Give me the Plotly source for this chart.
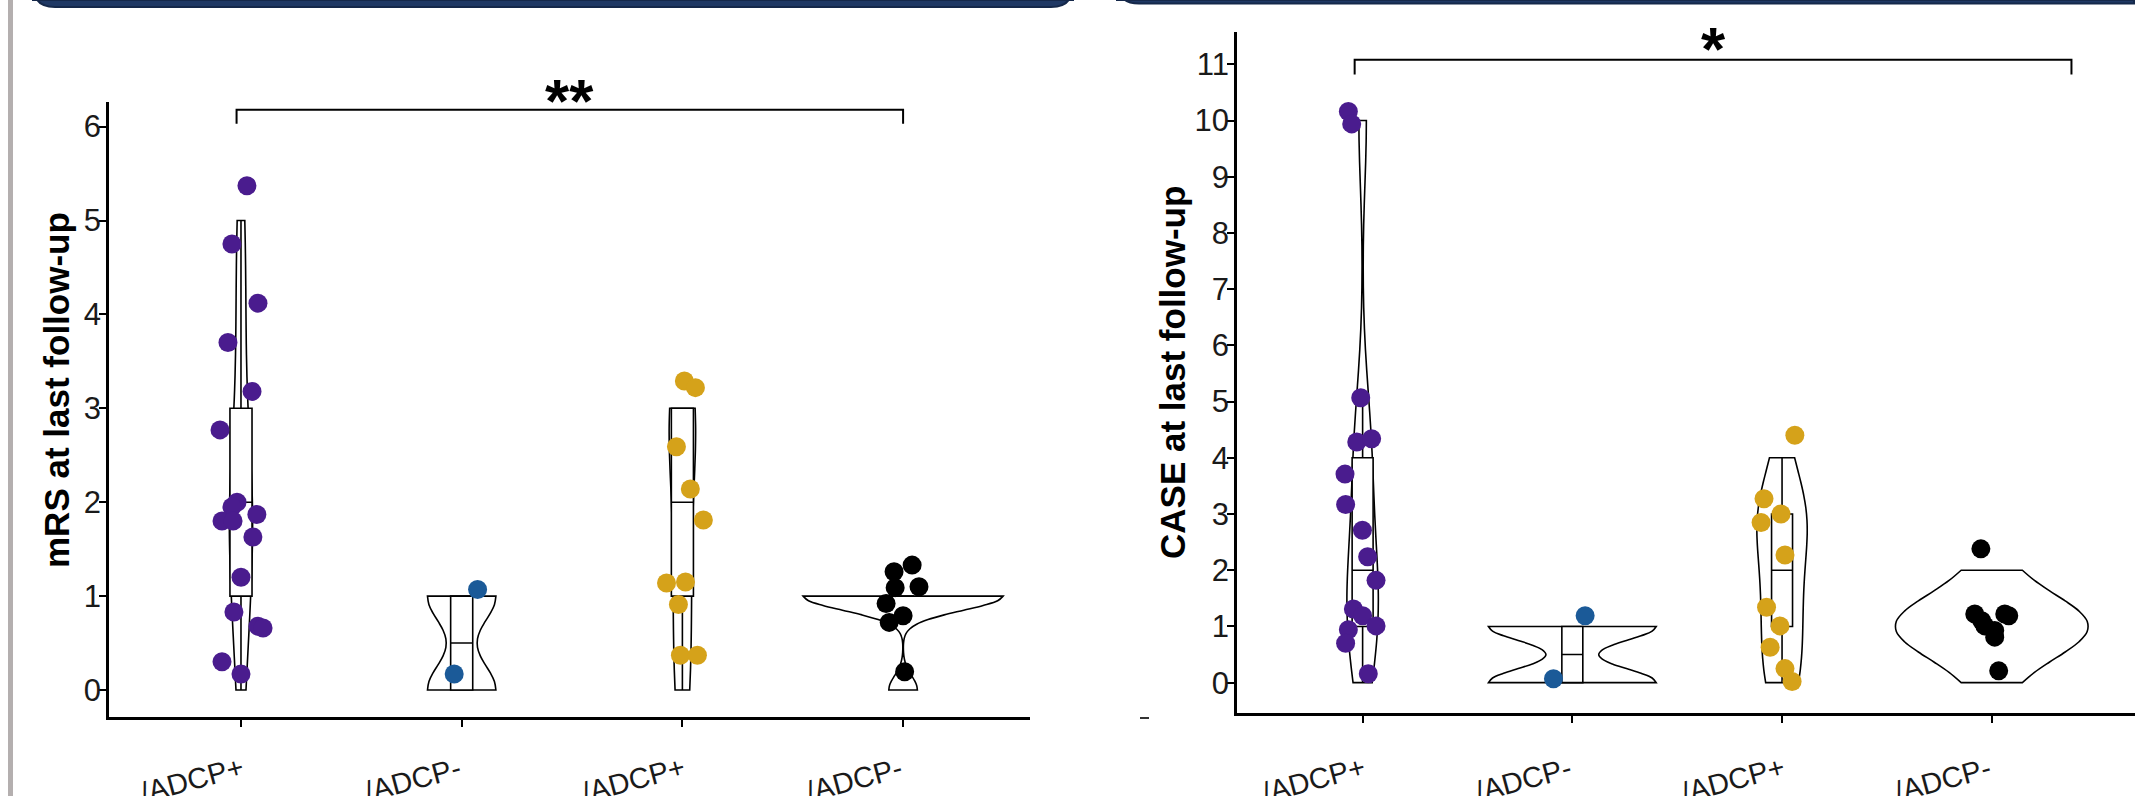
import numpy as np
import plotly.graph_objects as go

W, H = 2135, 796

# ---------------- data ----------------
categories = ["/ADCP+", "/ADCP-", "/ADCP+", "/ADCP-"]
group_colors = ["#4A1C8E", "#1B5A98", "#D5A21A", "#000000"]

# mRS at last follow-up (integer scores, used for violins / boxes)
mrs_purple = [5, 5, 4, 4, 3, 3, 2, 2, 2, 2, 2, 2, 1, 1, 1, 1, 0, 0]
mrs_blue = [1, 0]
mrs_gold = [3, 3, 3, 3, 2, 2, 1, 1, 0, 0]
mrs_black = [1, 1, 1, 1, 1, 1, 1, 0]

# jittered dot positions as drawn (value axis) and horizontal jitter (category units)
mrs_purple_dots = [5.37, 4.75, 4.12, 3.70, 3.18, 2.77, 2.00, 1.95, 1.80, 1.80, 1.87, 1.63, 1.20, 0.83, 0.68, 0.66, 0.30, 0.17]
mrs_purple_dx = [0.027, -0.041, 0.077, -0.059, 0.050, -0.095, -0.018, -0.041, -0.086, -0.036, 0.072, 0.054, 0.0, -0.032, 0.077, 0.100, -0.086, 0.0]
mrs_blue_dots = [1.07, 0.17]
mrs_blue_dx = [0.072, -0.034]
mrs_gold_dots = [3.29, 3.22, 2.59, 2.14, 1.81, 1.14, 1.15, 0.91, 0.37, 0.37]
mrs_gold_dx = [0.009, 0.059, -0.027, 0.036, 0.095, -0.072, 0.014, -0.018, -0.009, 0.068]
mrs_black_dots = [1.33, 1.26, 1.10, 1.09, 0.92, 0.79, 0.72, 0.195]
mrs_black_dx = [0.041, -0.041, 0.072, -0.036, -0.077, 0.0, -0.063, 0.007]

# CASE at last follow-up
case_purple = [10, 10, 5, 4, 4, 4, 3, 2, 2, 2, 1, 1, 1, 1, 1, 0]
case_blue = [1, 0]
case_gold = [4, 3, 3, 3, 2, 2, 1, 1, 0, 0]
case_black = [2, 1, 1, 1, 1, 1, 1, 1, 0]

case_purple_dots = [10.16, 9.94, 5.07, 4.28, 4.34, 3.71, 3.17, 2.71, 2.24, 1.82, 1.31, 1.19, 0.94, 1.01, 0.70, 0.16]
case_purple_dx = [-0.068, -0.052, -0.009, -0.028, 0.043, -0.084, -0.081, -0.001, 0.024, 0.064, -0.044, 0.0, -0.068, 0.064, -0.081, 0.027]
case_blue_dots = [1.19, 0.07]
case_blue_dx = [0.061, -0.090]
case_gold_dots = [4.40, 3.27, 3.00, 2.85, 2.27, 1.34, 1.01, 0.63, 0.25, 0.02]
case_gold_dx = [0.061, -0.086, -0.005, -0.100, 0.014, -0.074, -0.010, -0.057, 0.014, 0.048]
case_black_dots = [2.38, 1.22, 1.22, 1.10, 1.19, 1.01, 0.93, 0.81, 0.21]
case_black_dx = [-0.052, -0.081, 0.062, -0.048, 0.081, -0.033, 0.014, 0.014, 0.033]

mrs_ticks = [0, 1, 2, 3, 4, 5, 6]
case_ticks = [0, 1, 2, 3, 4, 5, 6, 7, 8, 9, 10, 11]

# ---------------- styling parameters ----------------
left_violin_widths = [0.105, 0.31, 0.12, 0.906]
left_bandwidths = [0.73, 0.29, 0.68, 0.15]
right_violin_widths = [0.15, 0.80, 0.24, 0.91]
right_bandwidths = [1.15, 0.26, 0.70, 0.55]
BOX_W = 0.1
FONT = "Liberation Sans, Arial, sans-serif"
LABEL_SHIFT_LEFT = -0.222     # centre of rotated category label relative to its tick
LABEL_SHIFT_RIGHT = -0.234
LABEL_BAR_H = 0.48            # label strip: label centre sits near the page bottom (cut there, as in the source crop)

LEFT_XRANGE = [-0.598, 3.575]
RIGHT_XRANGE = [-0.599, 3.683]


def px_x(p):
    return p / W


def px_y(p):
    return 1 - p / H


LEFT_XDOM = [px_x(109), px_x(1030)]
RIGHT_XDOM = [px_x(1237), 1.0]

fig = go.Figure()

left_scores = [mrs_purple, mrs_blue, mrs_gold, mrs_black]
left_dots = [mrs_purple_dots, mrs_blue_dots, mrs_gold_dots, mrs_black_dots]
left_dx = [mrs_purple_dx, mrs_blue_dx, mrs_gold_dx, mrs_black_dx]
right_scores = [case_purple, case_blue, case_gold, case_black]
right_dots = [case_purple_dots, case_blue_dots, case_gold_dots, case_black_dots]
right_dx = [case_purple_dx, case_blue_dx, case_gold_dx, case_black_dx]


def add_panel(scores, dots, dxs, widths, bws, xa, ya, tag):
    for i, vals in enumerate(scores):
        fig.add_trace(go.Violin(
            y=vals, x0=i, width=widths[i], bandwidth=bws[i],
            spanmode="hard", scalemode="width", scalegroup=f"{tag}{i}",
            points=False, side="both",
            line=dict(color="black", width=1.6), fillcolor="white",
            box=dict(visible=True, width=min(1.0, BOX_W / widths[i]), fillcolor="white",
                     line=dict(color="black", width=1.6)),
            meanline=dict(visible=False),
            showlegend=False, hoverinfo="skip", xaxis=xa, yaxis=ya))
    for i, (yv, dx) in enumerate(zip(dots, dxs)):
        fig.add_trace(go.Scatter(
            x=[i + d for d in dx], y=yv, mode="markers",
            marker=dict(color=group_colors[i], size=19, line=dict(width=0)),
            showlegend=False, hoverinfo="skip", xaxis=xa, yaxis=ya, cliponaxis=False))


def add_labels(shift, xa, ya):
    # rotated category labels, clipped at the bottom edge of the page like the source crop
    fig.add_trace(go.Bar(
        x=[i + shift for i in range(len(categories))], y=[LABEL_BAR_H] * len(categories), base=0,
        width=0.01, text=categories, textposition="inside", insidetextanchor="middle",
        textangle=-15, constraintext="none", cliponaxis=True,
        insidetextfont=dict(family=FONT, size=29, color="#1a1a1a"),
        marker=dict(color="rgba(0,0,0,0)", line=dict(width=0)),
        showlegend=False, hoverinfo="skip", xaxis=xa, yaxis=ya))


add_panel(left_scores, left_dots, left_dx, left_violin_widths, left_bandwidths, "x", "y", "L")
add_panel(right_scores, right_dots, right_dx, right_violin_widths, right_bandwidths, "x2", "y2", "R")
add_labels(LABEL_SHIFT_LEFT, "x3", "y3")
add_labels(LABEL_SHIFT_RIGHT, "x4", "y4")

axis_common = dict(showgrid=False, zeroline=False, showline=True, linecolor="black", linewidth=2.5,
                   ticks="outside", ticklen=7, tickwidth=2, tickcolor="black",
                   tickfont=dict(family=FONT, size=31, color="#1a1a1a"))
hidden = dict(visible=False, showgrid=False, zeroline=False, fixedrange=True)

fig.update_layout(
    width=W, height=H, margin=dict(l=0, r=0, t=0, b=0),
    paper_bgcolor="white", plot_bgcolor="rgba(0,0,0,0)", violinmode="overlay",
    xaxis=dict(domain=LEFT_XDOM, range=LEFT_XRANGE, anchor="y",
               tickvals=[0, 1, 2, 3], showticklabels=False, **axis_common),
    yaxis=dict(domain=[px_y(717), px_y(102)], range=[-0.2875, 6.262], anchor="x",
               tickvals=mrs_ticks, ticklabelstandoff=-8, **axis_common),
    xaxis2=dict(domain=RIGHT_XDOM, range=RIGHT_XRANGE, anchor="y2",
                tickvals=[0, 1, 2, 3], showticklabels=False, **axis_common),
    yaxis2=dict(domain=[px_y(713.3), px_y(31.7)], range=[-0.545, 11.58], anchor="x2",
                tickvals=case_ticks, ticklabelstandoff=-8, **axis_common),
    xaxis3=dict(domain=LEFT_XDOM, range=LEFT_XRANGE, anchor="y3", **hidden),
    yaxis3=dict(domain=[0, px_y(728)], range=[0, 1], anchor="x3", **hidden),
    xaxis4=dict(domain=RIGHT_XDOM, range=RIGHT_XRANGE, anchor="y4", **hidden),
    yaxis4=dict(domain=[0, px_y(728)], range=[0, 1], anchor="x4", **hidden),
)

# y-axis titles
fig.add_annotation(text="mRS at last follow-up", textangle=-90, xref="paper", yref="paper",
                   x=px_x(57), y=px_y(390), showarrow=False, xanchor="center", yanchor="middle",
                   font=dict(family=FONT, size=35, color="black", weight="bold"))
fig.add_annotation(text="CASE at last follow-up", textangle=-90, xref="paper", yref="paper",
                   x=px_x(1172), y=px_y(373), showarrow=False, xanchor="center", yanchor="middle",
                   font=dict(family=FONT, size=35, color="black", weight="bold"))

# significance brackets
fig.add_shape(type="path", xref="x", yref="y", path="M -0.02,6.03 L -0.02,6.18 L 3,6.18 L 3,6.03",
              line=dict(color="black", width=2))
fig.add_annotation(text="**", xref="x", yref="paper", x=1.49, y=px_y(101), showarrow=False,
                   xanchor="center", yanchor="middle",
                   font=dict(family=FONT, size=62, color="black", weight="bold"))
fig.add_shape(type="path", xref="x2", yref="y2", path="M -0.038,10.82 L -0.038,11.08 L 3.38,11.08 L 3.38,10.82",
              line=dict(color="black", width=2))
fig.add_annotation(text="*", xref="x2", yref="paper", x=1.671, y=px_y(48), showarrow=False,
                   xanchor="center", yanchor="middle",
                   font=dict(family=FONT, size=62, color="black", weight="bold"))

# decorative page elements: header bars, left rule, stray dash


def bar_path(x0, x1, yb, r, round_right=True):
    p = (f"M {px_x(x0)},{px_y(0)} L {px_x(x0)},{px_y(yb - r)} "
         f"Q {px_x(x0)},{px_y(yb)} {px_x(x0 + r)},{px_y(yb)} ")
    if round_right:
        p += (f"L {px_x(x1 - r)},{px_y(yb)} Q {px_x(x1)},{px_y(yb)} {px_x(x1)},{px_y(yb - r)} "
              f"L {px_x(x1)},{px_y(0)} Z")
    else:
        p += f"L {px_x(x1)},{px_y(yb)} L {px_x(x1)},{px_y(0)} Z"
    return p


fig.add_shape(type="path", xref="paper", yref="paper", path=bar_path(33, 1073, 7, 22),
              fillcolor="#1F3864", line=dict(color="#15284A", width=2))
fig.add_shape(type="path", xref="paper", yref="paper", path=bar_path(1117, 2134, 3.5, 22, False),
              fillcolor="#1F3864", line=dict(color="#15284A", width=2))
fig.add_shape(type="rect", xref="paper", yref="paper", x0=px_x(8), x1=px_x(13), y0=0, y1=1,
              fillcolor="#B4AFAF", line=dict(width=0))
fig.add_shape(type="line", xref="paper", yref="paper", x0=px_x(1140), x1=px_x(1149),
              y0=px_y(718), y1=px_y(718), line=dict(color="#333333", width=2))

fig.write_html("out.html")
